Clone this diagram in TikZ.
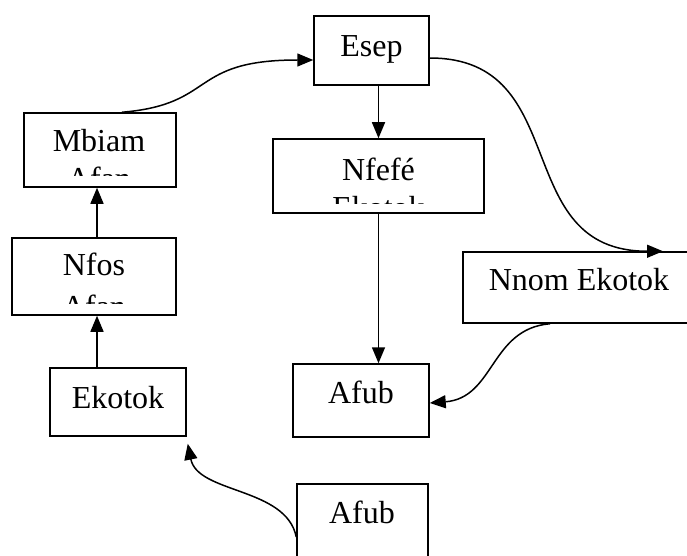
\documentclass[tikz,border=0pt]{standalone}
\usepackage{fontspec}
\setmainfont{Liberation Serif}
\usetikzlibrary{arrows.meta}
\tikzset{
  box/.style={draw,line width=1.5pt,inner sep=0pt},
  txt/.style={anchor=base,inner sep=0pt,font=\fontsize{32}{36}\selectfont},
  arr/.style={line width=1.5pt,-{Triangle[length=16pt,width=13pt]}},
}
\begin{document}
\begin{tikzpicture}[x=1pt,y=-1pt]
\clip (0,0) rectangle (687,556);
% boxes
\node[box,minimum width=115pt,minimum height=69pt] (esep) at (371.5,50.5) {};
\node[txt] (esep-t) at (371.5,57) {Esep};
\node[box,minimum width=152pt,minimum height=74pt] (mbiam) at (100,150) {};
\node[txt] (mbiam-t) at (99,152) {Mbiam};
\node[box,minimum width=211pt,minimum height=74pt] (nfefe) at (378.5,176) {};
\node[txt] (nfefe-t) at (378.5,180) {Nfefé};
\node[box,minimum width=232pt,minimum height=71pt] (nnom) at (579,287.5) {};
\node[txt] (nnom-t) at (579,290) {Nnom Ekotok};
\node[box,minimum width=164pt,minimum height=77pt] (nfos) at (94,276.5) {};
\node[txt] (nfos-t) at (94,275) {Nfos};
\node[box,minimum width=136pt,minimum height=68pt] (ekotok) at (118,402) {};
\node[txt] (ekotok-t) at (118,408) {Ekotok};
\node[box,minimum width=136pt,minimum height=73pt] (afub) at (361,400.5) {};
\node[txt] (afub-t) at (361,403) {Afub};
\node[box,minimum width=131pt,minimum height=76pt] (afubb) at (362.5,522) {};
\node[txt] (afubb-t) at (362,523) {Afub};
% second lines, cut off at the box bottom
\begin{scope}
\clip ([yshift=12pt]mbiam.south west) rectangle (mbiam.north east);
\node[txt] (mbiam-t2) at (99,189) {Afan};
\end{scope}
\begin{scope}
\clip ([yshift=12pt]nfos.south west) rectangle (nfos.north east);
\node[txt] (nfos-t2) at (94,317) {Afan};
\end{scope}
\begin{scope}
\clip ([yshift=10pt]nfefe.south west) rectangle (nfefe.north east);
\node[txt] (nfefe-t2) at (378.5,218) {Ekotok};
\end{scope}
% connectors
\draw[arr] ([xshift=22pt]mbiam.north) .. controls +(95,-8) and +(-125,0) .. ([yshift=-9.5pt]esep.west);
\draw[arr] (nfefe.north |- esep.south) -- (nfefe.north);
\draw[arr] ([yshift=-7.5pt]esep.east) .. controls +(145,0) and +(-155,0) .. ([xshift=84pt]nnom.north);
\draw[arr] (nfefe.south) -- (nfefe.south |- afub.north);
\draw[arr] ([xshift=-29pt]nnom.south) .. controls +(-60,5) and +(65,-5) .. ([yshift=-2.5pt]afub.east);
\draw[arr] ([xshift=-3pt]mbiam.south |- nfos.north) -- ([xshift=-3pt]mbiam.south);
\draw[arr] ([xshift=3pt]nfos.south |- ekotok.north) -- ([xshift=3pt]nfos.south);
\draw[arr] ([yshift=-15pt]afubb.west) .. controls +(-10,-50) and +(10,50) .. ([xshift=1pt,yshift=-7pt]ekotok.south east);
\end{tikzpicture}
\end{document}
